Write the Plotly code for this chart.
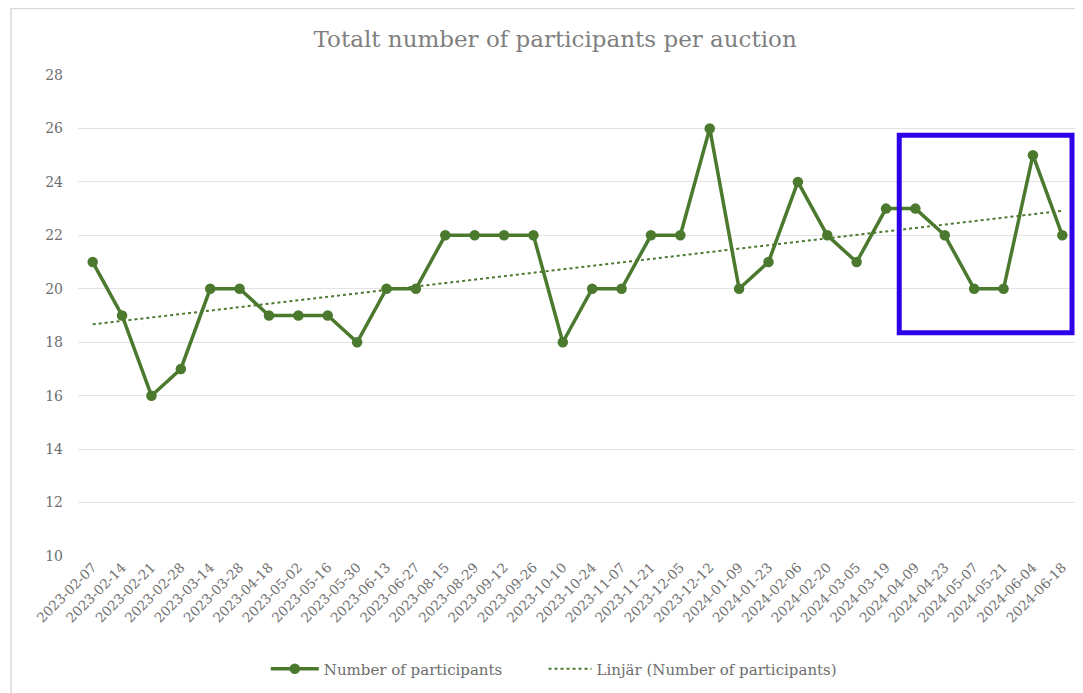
import numpy as np
import plotly.graph_objects as go

# Datum per auktion
datum = [
    '2023-02-07', '2023-02-14', '2023-02-21', '2023-02-28', '2023-03-14', '2023-03-28',
    '2023-04-18', '2023-05-02', '2023-05-16', '2023-05-30', '2023-06-13', '2023-06-27',
    '2023-08-15', '2023-08-29', '2023-09-12', '2023-09-26', '2023-10-10', '2023-10-24',
    '2023-11-07', '2023-11-21', '2023-12-05', '2023-12-12', '2024-01-09', '2024-01-23',
    '2024-02-06', '2024-02-20', '2024-03-05', '2024-03-19', '2024-04-09', '2024-04-23',
    '2024-05-07', '2024-05-21', '2024-06-04', '2024-06-18',
]

# Antal deltagare
deltagare = [
    21, 19, 16, 17, 20, 20, 19, 19, 19, 18, 20, 20,
    22, 22, 22, 22, 18, 20, 20, 22, 22, 26, 20, 21,
    24, 22, 21, 23, 23, 22, 20, 20, 25, 22,
]

y_ticks = [10, 12, 14, 16, 18, 20, 22, 24, 26, 28]

gron = '#4B7A2F'
gra_text = '#6E6E6E'
typsnitt = 'DejaVu Serif'

# Linjär trendlinje (som Excel)
idx = np.arange(len(deltagare))
k, m = np.polyfit(idx, deltagare, 1)
trend = k * idx + m

fig = go.Figure()

fig.add_trace(go.Scatter(
    x=datum,
    y=deltagare,
    mode='lines+markers',
    name='Number of participants',
    line=dict(color=gron, width=3.5),
    marker=dict(color=gron, size=10.5),
    legend='legend',
))

fig.add_trace(go.Scatter(
    x=datum,
    y=trend,
    mode='lines',
    name='Linjär (Number of participants)',
    line=dict(color=gron, width=2, dash='dot'),
    legend='legend2',
))

# Ram runt hela diagrammet
fig.add_shape(
    type='rect', xref='paper', yref='paper',
    x0=-0.067, x1=1.05, y0=-0.4, y1=1.138,
    line=dict(color='#D9D9D9', width=1.5),
    layer='below',
)

# Blå markering
fig.add_shape(
    type='rect', xref='x', yref='y',
    x0=27.45, x1=33.33, y0=18.35, y1=25.75,
    line=dict(color='#2E00E8', width=5),
)

legend_font = dict(family=typsnitt, size=15, color=gra_text)

# sidan har 8 px marginal i body, därför lite mindre figur
fig.update_layout(
    width=1075,
    height=685,
    paper_bgcolor='white',
    plot_bgcolor='white',
    margin=dict(l=70, r=6, t=67, b=137, autoexpand=False),
    title=dict(
        text='Totalt number of participants per auction',
        x=0.509, xanchor='center',
        y=0.955, yanchor='middle',
        font=dict(family=typsnitt, size=23, color='#7F7F7F'),
    ),
    font=dict(family=typsnitt, color=gra_text),
    showlegend=True,
    legend=dict(
        orientation='h',
        x=0.188, xanchor='left',
        y=-0.235, yanchor='middle',
        font=legend_font,
        itemwidth=48,
    ),
    legend2=dict(
        orientation='h',
        x=0.466, xanchor='left',
        y=-0.235, yanchor='middle',
        font=legend_font,
        itemwidth=43,
    ),
    xaxis=dict(
        type='category',
        tickangle=-45,
        tickfont=dict(family=typsnitt, size=13.5, color=gra_text),
        showgrid=False,
        showline=False,
        zeroline=False,
        automargin=False,
        range=[-0.5, len(datum) - 0.5],
    ),
    yaxis=dict(
        range=[10, 28],
        tickvals=y_ticks,
        tickfont=dict(family=typsnitt, size=14, color=gra_text),
        showgrid=True,
        gridcolor='#E3E3E3',
        gridwidth=1.2,
        zeroline=False,
        showline=False,
        automargin=False,
        ticklabelstandoff=14,
    ),
)

fig.write_html('out.html')
